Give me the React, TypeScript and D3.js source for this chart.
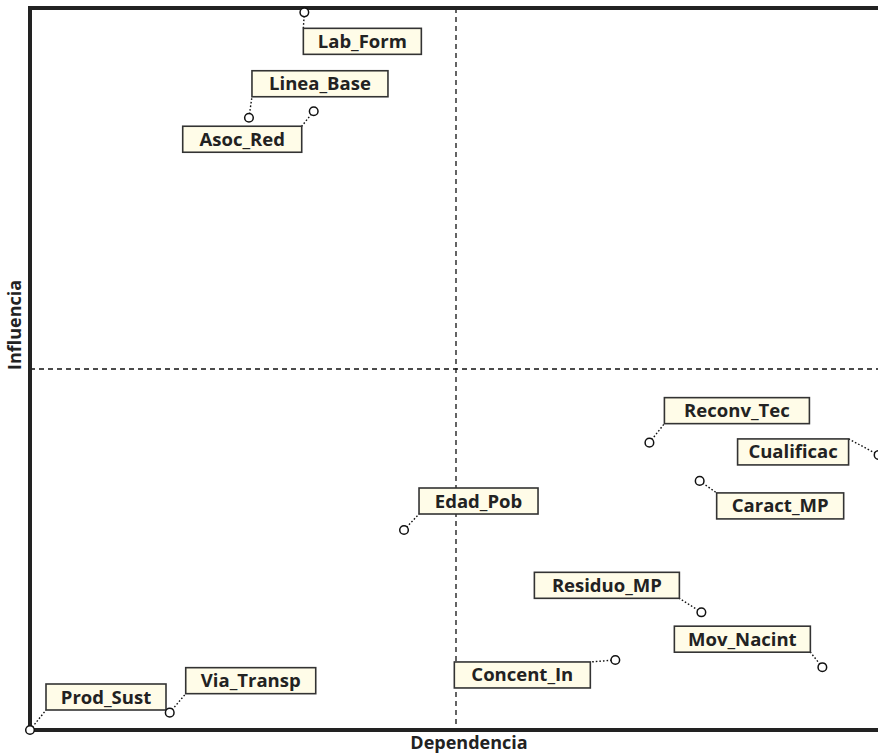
import React from "react";
import * as d3 from "d3";

// ---- Data ----
const variables = [
  "Lab_Form",
  "Linea_Base",
  "Asoc_Red",
  "Reconv_Tec",
  "Cualificac",
  "Caract_MP",
  "Edad_Pob",
  "Residuo_MP",
  "Mov_Nacint",
  "Concent_In",
  "Prod_Sust",
  "Via_Transp",
];
const dependencia = [32.2, 25.7, 33.3, 72.7, 99.6, 78.6, 43.9, 78.8, 93.0, 68.7, 0.0, 16.4];
const influencia = [99.4, 84.8, 85.7, 39.8, 38.1, 34.5, 27.7, 16.3, 8.7, 9.7, 0.0, 2.4];
const meanDependencia = 50;
const meanInfluencia = 50;
const xTitle = "Dependencia";
const yTitle = "Influencia";

// ---- Layout of label boxes (offset of box top-left from point, width, leader corner) ----
const labelLayout: Record<string, { dx: number; dy: number; w: number; anchor: string }> = {
  Lab_Form: { dx: -1, dy: 16, w: 118, anchor: "tl" },
  Linea_Base: { dx: 3, dy: -47, w: 136, anchor: "bl" },
  Asoc_Red: { dx: -131, dy: 15, w: 119, anchor: "tr" },
  Reconv_Tec: { dx: 15, dy: -45, w: 145, anchor: "bl" },
  Cualificac: { dx: -141, dy: -16, w: 111, anchor: "tr" },
  Caract_MP: { dx: 17, dy: 12, w: 127, anchor: "tl" },
  Edad_Pob: { dx: 15, dy: -42, w: 119, anchor: "bl" },
  Residuo_MP: { dx: -167, dy: -40, w: 145, anchor: "br" },
  Mov_Nacint: { dx: -148, dy: -41, w: 136, anchor: "br" },
  Concent_In: { dx: -161, dy: 2, w: 136, anchor: "tr" },
  Prod_Sust: { dx: 16, dy: -46, w: 120, anchor: "bl" },
  Via_Transp: { dx: 16, dy: -45, w: 130, anchor: "bl" },
};

const W = 878;
const H = 755;
const left = 30;
const right = 882;
const top = 8;
const bottom = 730;
const boxH = 26;
const FONT = "'Open Sans', 'Noto Sans', sans-serif";

export default function App() {
  const x = d3.scaleLinear().domain([0, 100]).range([left, right]);
  const y = d3.scaleLinear().domain([0, 100]).range([bottom, top]);

  const pts = variables.map((name, i) => {
    const px = x(dependencia[i]);
    const py = y(influencia[i]);
    const L = labelLayout[name];
    const bx = px + L.dx;
    const by = py + L.dy;
    const ax = L.anchor.includes("l") ? bx : bx + L.w;
    const ay = L.anchor.includes("t") ? by : by + boxH;
    return { name, px, py, bx, by, w: L.w, ax, ay };
  });

  const mx = x(meanDependencia);
  const my = y(meanInfluencia);

  return (
    <svg
      width={W}
      height={H}
      style={{ position: "absolute", left: 0, top: 0, background: "#fff" }}
      fontFamily={FONT}
    >
      {/* mean lines */}
      <line x1={mx} x2={mx} y1={top} y2={bottom} stroke="#111" strokeWidth={1.3} strokeDasharray="5,4" />
      <line x1={left} x2={right} y1={my} y2={my} stroke="#111" strokeWidth={1.3} strokeDasharray="5,4" />

      {/* frame */}
      <rect x={left} y={top} width={right - left} height={bottom - top} fill="none" stroke="#222" strokeWidth={4} />

      {/* leaders */}
      {pts.map((p) => (
        <line
          key={"l" + p.name}
          x1={p.px}
          y1={p.py}
          x2={p.ax}
          y2={p.ay}
          stroke="#111"
          strokeWidth={1.4}
          strokeDasharray="1.6,2"
        />
      ))}

      {/* label boxes */}
      {pts.map((p) => (
        <g key={"b" + p.name}>
          <rect x={p.bx} y={p.by} width={p.w} height={boxH} fill="#fffce8" stroke="#333" strokeWidth={1.6} />
          <text
            x={p.bx + p.w / 2}
            y={p.by + boxH / 2 + 6.5}
            textAnchor="middle"
            fontSize={18.5}
            fontWeight={700}
            fill="#222"
          >
            {p.name}
          </text>
        </g>
      ))}

      {/* points */}
      {pts.map((p) => (
        <circle key={"c" + p.name} cx={p.px} cy={p.py} r={4.3} fill="#fff" stroke="#111" strokeWidth={1.5} />
      ))}

      {/* axis titles */}
      <text x={469} y={749} textAnchor="middle" fontSize={18} fontWeight={700} fill="#222">
        {xTitle}
      </text>
      <text
        transform={`translate(21,325) rotate(-90)`}
        textAnchor="middle"
        fontSize={18}
        fontWeight={700}
        fill="#222"
      >
        {yTitle}
      </text>
    </svg>
  );
}
